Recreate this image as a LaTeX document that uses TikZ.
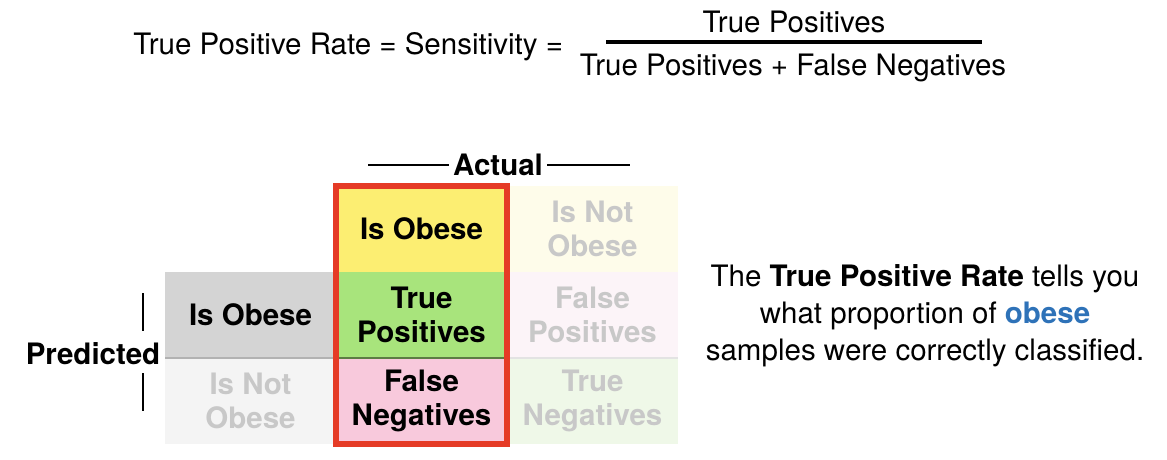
\documentclass[tikz,border=0pt]{standalone}
\usepackage{fontspec}
\setmainfont{TeX Gyre Heros}
\usepackage{xcolor}
\usepackage{tikz}
\usetikzlibrary{positioning}
\definecolor{hdryellow}{HTML}{FCEE72}
\definecolor{tpgreen}{HTML}{A8E47C}
\definecolor{fnpink}{HTML}{F8C9DC}
\definecolor{hdrgray}{HTML}{D4D4D4}
\definecolor{fadegray}{HTML}{F4F4F4}
\definecolor{fadeyellow}{HTML}{FEFCEA}
\definecolor{fadepink}{HTML}{FCF4F8}
\definecolor{fadegreen}{HTML}{EFF8E8}
\definecolor{fadetext}{HTML}{C8C8C8}
\definecolor{framered}{HTML}{E53B26}
\definecolor{obeseblue}{HTML}{2E72B8}
\newcommand\bigfont{\fontsize{14.75}{18.5}\selectfont}
\tikzset{
  cell/.style={minimum width=85.5pt, minimum height=43pt, inner sep=0pt,
    outer sep=0pt, align=center, font=\fontsize{14.75}{17}\selectfont\bfseries},
  faded/.style={cell, text=fadetext},
  rule/.style={line width=1pt, draw=black},
  fracbar/.style={line width=2pt, draw=black},
  redframe/.style={line width=3pt, draw=framered}
}

\begin{document}
\begin{tikzpicture}[x=0.5pt, y=-0.5pt, font=\bigfont]
        \useasboundingbox (0,0) rectangle (1167,460);
        % formula
        \node[anchor=base west, inner sep=0pt] (tpr) at (133,55) {True Positive Rate = Sensitivity =};
        \node[anchor=base, inner sep=0pt] (num) at (794,33) {True Positives};
        \node[anchor=base, inner sep=0pt] (den) at (793,76) {True Positives + False Negatives};
        \draw[fracbar] (606,42) -- (982,42);
        % confusion matrix
        \node[cell, fill=hdryellow] (hdrobese) at (421.5,229) {Is Obese};
        \node[faded, fill=fadeyellow, right=0pt of hdrobese] (hdrnot) {Is Not\\Obese};
        \node[cell, fill=tpgreen, below=0pt of hdrobese] (tp) {True\\Positives};
        \node[faded, fill=fadepink, right=0pt of tp] (fp) {False\\Positives};
        \node[cell, fill=hdrgray, left=0pt of tp] (rowobese) {Is Obese};
        \node[cell, fill=fnpink, below=0pt of tp] (fn) {False\\Negatives};
        \node[faded, fill=fadegreen, right=0pt of fn] (tn) {True\\Negatives};
        \node[faded, fill=fadegray, left=0pt of fn] (rownot) {Is Not\\Obese};
        \draw[gray!60, line width=0.6pt] (rowobese.south west) -- (rowobese.south east);
        \draw[tpgreen!55!black, line width=0.6pt] (tp.south west) -- (tp.south east);
        \draw[gray!22, line width=0.6pt] (fp.south west) -- (fp.south east);
        \draw[redframe] (hdrobese.north west) rectangle (fn.south east);
        % axis labels
        \node[inner sep=2pt, font=\bigfont\bfseries] (actual) at (498,165) {Actual};
        \draw[rule] (actual.west) -- ++(-81,0);
        \draw[rule] (actual.east) -- ++(83,0);
        \node[anchor=base, inner sep=0pt, font=\bigfont\bfseries] (pred) at (93,364) {Predicted};
        \draw[rule] (143,293) -- (143,331);
        \draw[rule] (143,373) -- (143,411);
        % explanation
        \node[align=center, inner sep=0pt] (note) at (925,316)
          {The \textbf{True Positive Rate} tells you\\
           what proportion of \textbf{\color{obeseblue}obese}\\
           samples were correctly classified.};
\end{tikzpicture}
\end{document}
